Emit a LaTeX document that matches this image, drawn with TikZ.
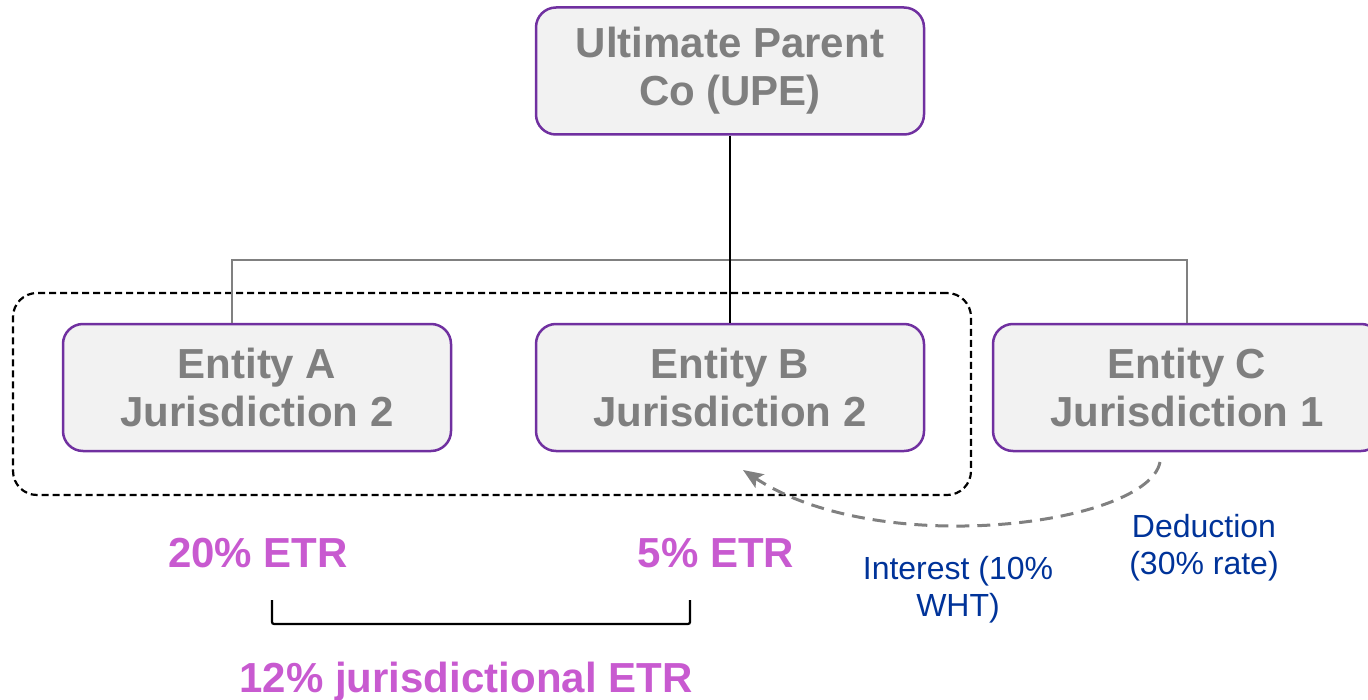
\documentclass[tikz,border=0pt]{standalone}
\usepackage{fontspec}
\setmainfont{Liberation Sans}
\usetikzlibrary{arrows.meta,calc}
\definecolor{boxfill}{RGB}{242,242,242}
\definecolor{boxline}{RGB}{112,48,160}
\definecolor{boxtext}{RGB}{127,127,127}
\definecolor{etrpink}{RGB}{200,90,208}
\definecolor{noteblue}{RGB}{0,51,153}
\definecolor{linkgray}{RGB}{128,128,128}
\tikzset{
  entity/.style={draw=boxline, line width=1.25pt, fill=boxfill, rounded corners=10pt,
    minimum width=194pt, minimum height=63.5pt, align=center, text=boxtext,
    font=\fontsize{21}{24}\selectfont\bfseries, inner sep=0pt},
  etr/.style={text=etrpink, font=\fontsize{21}{24}\selectfont\bfseries, inner sep=0pt},
  note/.style={text=noteblue, align=center, font=\fontsize{16}{18.5}\selectfont, inner sep=0pt},
  group/.style={draw=black, line width=1.1pt, dash pattern=on 3.5pt off 2pt, rounded corners=12pt,
    minimum width=479pt, minimum height=101pt, inner sep=0pt},
  tree/.style={draw=linkgray, line width=0.7pt},
  owner/.style={draw=black, line width=1.2pt},
  flow/.style={draw=linkgray, line width=1.5pt, dash pattern=on 6.5pt off 4pt,
    -{Stealth[length=10pt,width=8pt,inset=2pt]}},
  bracket/.style={draw=black, line width=1.1pt, rounded corners=1pt}
}
\begin{document}
\begin{tikzpicture}[x=0.5pt, y=-0.5pt]
  \useasboundingbox (0,0) rectangle (1368,700);

  % consolidation group for jurisdiction 2
  \node[group] (grp) at (492,394) {};

  % entities
  \node[entity] (upe) at (730,71) {Ultimate Parent\\Co (UPE)};
  \node[entity] (ea) at (257,387.5) {Entity A\\Jurisdiction 2};
  \node[entity] (eb) at (730,387.5) {Entity B\\Jurisdiction 2};
  \node[entity] (ec) at (1187,387.5) {Entity C\\Jurisdiction 1};

  % ownership lines
  \coordinate (bus) at (730,260);
  \coordinate (tapa) at ($(ea.north)+(-25,0)$);
  \draw[tree] (tapa) |- (bus) -| (ec.north);
  \draw[owner] (upe.south) -- (eb.north);

  % interest payment from C to B
  \coordinate (pay) at (1160,462);
  \coordinate (recv) at (743,470);
  \draw[flow] (pay) .. controls (1148,525) and (880,560) .. (recv);

  \node[note] (interest) at (958,590) {Interest (10\%\\WHT)};
  \node[note] (deduct) at (1204,548) {Deduction\\(30\% rate)};

  % effective tax rates
  \node[etr] (etra) at (258,553) {20\% ETR};
  \node[etr] (etrb) at (716,553) {5\% ETR};

  \coordinate (bl) at (272,600);
  \coordinate (br) at (690,600);
  \draw[bracket] (bl) -- ++(0,24) -- ($(br)+(0,24)$) -- (br);

  \node[etr] (etrj) at (466,682) {12\% jurisdictional ETR};
\end{tikzpicture}
\end{document}
